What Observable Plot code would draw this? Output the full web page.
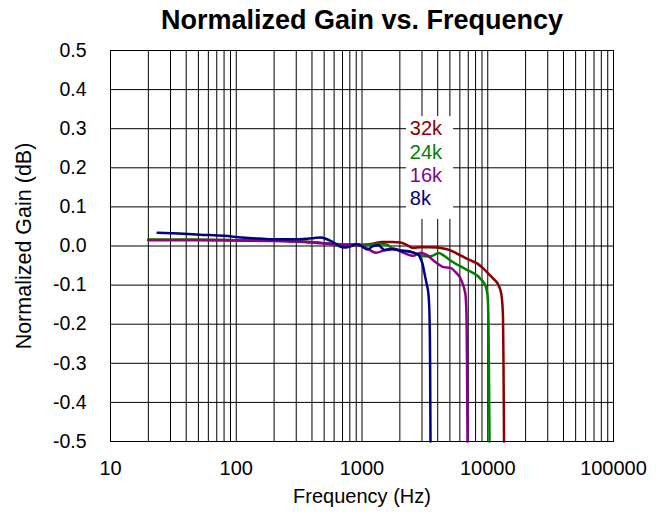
<!DOCTYPE html>
<html><head><meta charset="utf-8">
<script src="https://cdn.jsdelivr.net/npm/d3@7"></script>
<script src="https://cdn.jsdelivr.net/npm/@observablehq/plot@0.6"></script>
<style>
body{margin:0;background:#fff;}
#title{font:bold 27px "Liberation Sans",Arial,sans-serif;height:40px;line-height:40px;width:665px;text-align:center;padding-left:59px;box-sizing:border-box;color:#000;white-space:nowrap;}
</style></head><body>
<div id="title">Normalized Gain vs. Frequency</div>
<div id="chart"></div>
<script>
// ---- data ----
const seriesNames = ["32k", "24k", "16k", "8k"];
const seriesColors = ["#8b0000", "#008000", "#8b008b", "#000080"];

const freq32k = [20,50,100,200,350,468,562,811,1000,1211,1455,1748,2024,2218,2570,2918,3380,3911,4210,5054,5745,6413,7296,8285,9250,10140,11110,12170,12850,13220,13340,13470];
const gain32k = [0.016,0.016,0.015,0.014,0.011,0.008,0.005,0.002,0.002,0.006,0.010,0.010,0.009,0.004,-0.005,-0.003,-0.003,-0.004,-0.005,-0.011,-0.020,-0.028,-0.037,-0.045,-0.058,-0.071,-0.084,-0.100,-0.125,-0.18,-0.30,-0.5];

const freq24k = [20,50,100,200,350,468,562,811,1000,1211,1352,1580,1748,2024,2431,2918,3380,3706,4059,4448,5054,5745,6413,7034,7569,8285,8750,9250,9590,9950,10140,10240,10330];
const gain24k = [0.016,0.016,0.015,0.014,0.011,0.008,0.006,0.004,0.004,0.004,0.006,0.003,-0.006,-0.011,-0.014,-0.024,-0.027,-0.024,-0.018,-0.024,-0.037,-0.048,-0.056,-0.063,-0.068,-0.076,-0.084,-0.093,-0.102,-0.125,-0.2,-0.35,-0.5];

const freq16k = [20,50,100,200,350,468,562,675,811,950,1106,1290,1510,1800,2120,2570,2918,3318,3706,4059,4448,5054,5543,6075,6413,6653,6778,6840,6904];
const gain16k = [0.015,0.015,0.014,0.013,0.010,0.007,0.005,0.003,0.004,0.003,-0.007,-0.017,-0.011,-0.007,-0.017,-0.025,-0.017,-0.024,-0.037,-0.047,-0.054,-0.056,-0.067,-0.083,-0.103,-0.125,-0.18,-0.30,-0.5];

const freq8k = [23.7,35,52,80,110,150,198,300,411,468,520,562,620,675,740,811,904,1009,1106,1211,1352,1510,1748,2024,2431,2813,2918,3027,3140,3258,3380,3443,3480,3506];
const gain8k = [0.034,0.032,0.029,0.026,0.022,0.019,0.017,0.017,0.020,0.022,0.018,0.013,0.005,-0.002,-0.004,-0.001,0.005,-0.002,-0.009,-0.001,0.002,-0.010,-0.008,-0.012,-0.015,-0.022,-0.032,-0.045,-0.070,-0.095,-0.125,-0.18,-0.30,-0.5];

const xTicks = [10, 100, 1000, 10000, 100000];
const yTicks = [-0.5,-0.4,-0.3,-0.2,-0.1,0,0.1,0.2,0.3,0.4,0.5];
// label annotation (data coordinates)
const labelFreq = 2400;
const labelGains = [0.30, 0.24, 0.18, 0.12];

// ---- build tables ----
const freqs = [freq32k, freq24k, freq16k, freq8k];
const gains = [gain32k, gain24k, gain16k, gain8k];
const rows = [];
seriesNames.forEach((s, i) => freqs[i].forEach((f, j) => rows.push({series: s, f, g: gains[i][j]})));
const labels = seriesNames.map((s, i) => ({s, f: labelFreq, g: labelGains[i]}));
const xGrid = [];
for (let d = 10; d < 100000; d *= 10) for (let k = 1; k < 10; k++) xGrid.push(d * k);
xGrid.push(100000);

const font = "Liberation Sans, Arial, sans-serif";
const chart = Plot.plot({
  width: 665, height: 477,
  marginTop: 10, marginBottom: 76, marginLeft: 110, marginRight: 52,
  style: {fontFamily: font, fontSize: "19.5px", color: "#000", background: "#fff"},
  x: {type: "log", domain: [10, 100000]},
  y: {domain: [-0.5, 0.5]},
  color: {domain: seriesNames, range: seriesColors},
  marks: [
    Plot.ruleX(xGrid, {stroke: "#000", strokeWidth: 1}),
    Plot.ruleY(yTicks, {stroke: "#000", strokeWidth: 1}),
    Plot.rect([{}], {x1: 2262, x2: 5350, y1: 0.068, y2: 0.331, fill: "white"}),
    Plot.line(rows, {x: "f", y: "g", z: "series", stroke: "series", strokeWidth: 2.5, curve: "monotone-x"}),
    Plot.text(labels, {x: "f", y: "g", text: "s", fill: d => d.s, textAnchor: "start", fontSize: 20}),
    Plot.frame({stroke: "#000", strokeWidth: 1}),
    Plot.axisX({ticks: xTicks, tickFormat: d => String(d), tickSize: 0, tickPadding: 19, fontSize: 20, label: null}),
    Plot.axisY({ticks: yTicks, tickFormat: d => d.toFixed(1), tickSize: 0, tickPadding: 24, fontSize: 19.5, label: null}),
    Plot.text(["Frequency (Hz)"], {frameAnchor: "bottom", lineAnchor: "middle", textAnchor: "middle", dy: 55, fontSize: 20}),
    Plot.text(["Normalized Gain (dB)"], {frameAnchor: "left", lineAnchor: "middle", textAnchor: "middle", dx: -86, rotate: -90, fontSize: 21.5})
  ]
});
document.getElementById("chart").appendChild(chart);
</script>
</body></html>
